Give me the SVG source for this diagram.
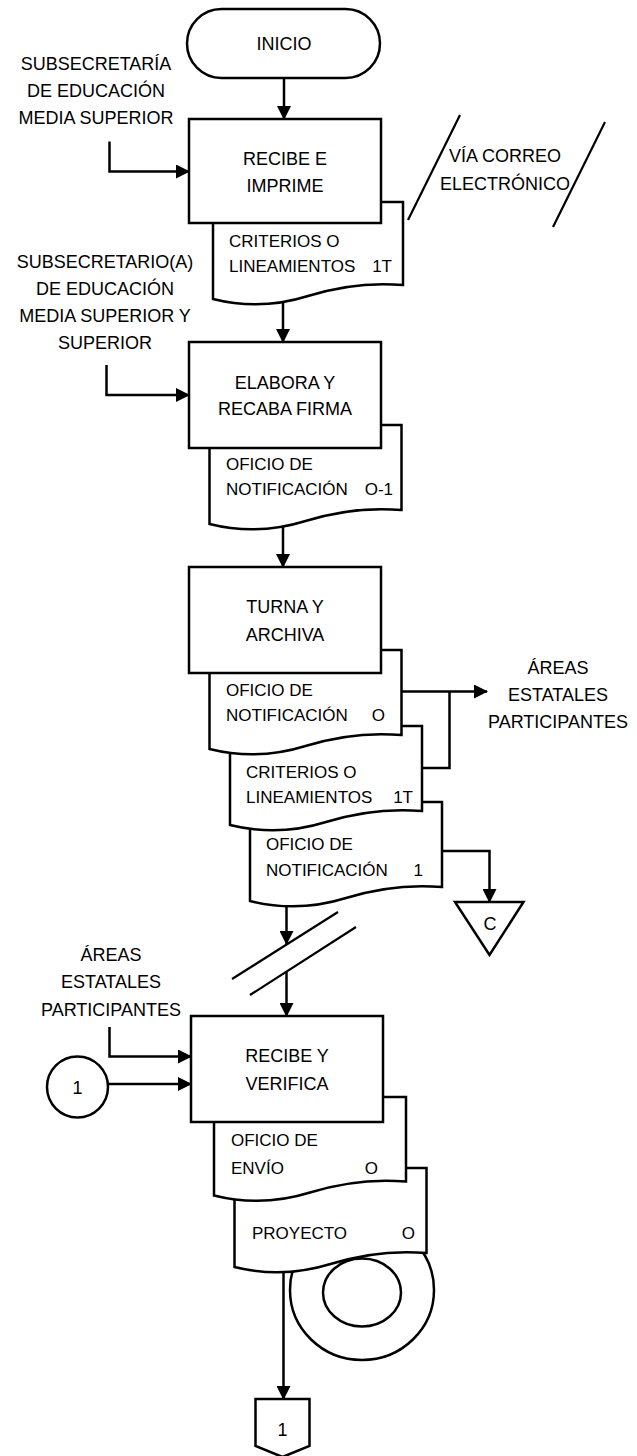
<svg xmlns="http://www.w3.org/2000/svg" width="637" height="1456" viewBox="0 0 637 1456">
  <style>
    .s { fill: #fff; stroke: #000; stroke-width: 2.5; }
    .c { fill: none; stroke: #000; stroke-width: 2.5; }
    .ln { fill: none; stroke: #000; stroke-width: 2.2; }
    text { font-family: "Liberation Sans", Arial, sans-serif; font-size: 18px; fill: #000; }
    .m { text-anchor: middle; }
    .e { text-anchor: end; }
    .d { font-size: 17px; }
  </style>
  <defs>
    <marker id="ah" viewBox="0 0 14 14" refX="13" refY="7" markerWidth="14" markerHeight="14" markerUnits="userSpaceOnUse" orient="auto">
      <path d="M0,0 L14,7 L0,14 z" fill="#000"/>
    </marker>
  </defs>
  <rect width="637" height="1456" fill="#fff"/>

  <!-- start terminator -->
  <g id="inicio">
    <rect class="s" x="187" y="9" width="193" height="69" rx="34.5" ry="34.5"/>
    <text class="m" x="284" y="49.5">INICIO</text>
  </g>

  <!-- actor labels -->
  <g id="lbl-subsecretaria">
    <text class="m" x="96" y="70">SUBSECRETARÍA</text>
    <text class="m" x="96" y="97">DE EDUCACIÓN</text>
    <text class="m" x="96" y="124">MEDIA SUPERIOR</text>
  </g>
  <g id="lbl-subsecretario">
    <text class="m" x="105" y="268">SUBSECRETARIO(A)</text>
    <text class="m" x="105" y="295">DE EDUCACIÓN</text>
    <text class="m" x="105" y="322">MEDIA SUPERIOR Y</text>
    <text class="m" x="105" y="349">SUPERIOR</text>
  </g>

  <!-- step 1 with its document -->
  <g id="doc-criterios-1">
    <path class="s" d="M213,299 Q260.5,311 308,296 Q355.5,281 403,285 V202 H213 Z"/>
    <text class="d" x="229" y="246.5">CRITERIOS O</text>
    <text class="d" x="229" y="271.5">LINEAMIENTOS</text>
    <text class="d e" x="392" y="271.5">1T</text>
  </g>
  <g id="recibe-imprime">
    <rect class="s" x="189" y="119" width="192" height="104"/>
    <text class="m" x="285" y="164.5">RECIBE E</text>
    <text class="m" x="285" y="191.5">IMPRIME</text>
  </g>

  <!-- e-mail channel -->
  <g id="via-correo">
    <line class="ln" x1="408" y1="220" x2="460" y2="115"/>
    <line class="ln" x1="553" y1="227" x2="605" y2="122"/>
    <text class="m" x="505" y="161.5">VÍA CORREO</text>
    <text class="m" x="505" y="190">ELECTRÓNICO</text>
  </g>

  <!-- step 2 -->
  <g id="doc-oficio-o1">
    <path class="s" d="M209.5,524 Q257.5,536 305.5,521 Q353.5,506 401.5,510 V425 H209.5 Z"/>
    <text class="d" x="226" y="469.5">OFICIO DE</text>
    <text class="d" x="226" y="494.5">NOTIFICACIÓN</text>
    <text class="d e" x="393" y="494.5">O-1</text>
  </g>
  <g id="elabora-recaba">
    <rect class="s" x="189" y="342" width="192" height="106"/>
    <text class="m" x="285" y="389">ELABORA Y</text>
    <text class="m" x="285" y="415">RECABA FIRMA</text>
  </g>

  <!-- step 3 with stacked documents -->
  <g id="doc-oficio-1">
    <path class="s" d="M250,901 Q298,913 346,898 Q394,883 442,887 V802 H250 Z"/>
    <text class="d" x="266" y="849.5">OFICIO DE</text>
    <text class="d" x="266" y="875.5">NOTIFICACIÓN</text>
    <text class="d e" x="423" y="875.5">1</text>
  </g>
  <g id="doc-criterios-2">
    <path class="s" d="M230,825 Q278,837 326,822 Q374,807 422,811 V726 H230 Z"/>
    <text class="d" x="246" y="778">CRITERIOS O</text>
    <text class="d" x="246" y="803">LINEAMIENTOS</text>
    <text class="d e" x="413" y="803">1T</text>
  </g>
  <g id="doc-oficio-o">
    <path class="s" d="M209.5,749 Q257.5,761 305.5,746 Q353.5,731 401.5,735 V650 H209.5 Z"/>
    <text class="d" x="226" y="696">OFICIO DE</text>
    <text class="d" x="226" y="721">NOTIFICACIÓN</text>
    <text class="d e" x="385" y="721">O</text>
  </g>
  <g id="turna-archiva">
    <rect class="s" x="189" y="567" width="192" height="106"/>
    <text class="m" x="285" y="613">TURNA Y</text>
    <text class="m" x="285" y="641">ARCHIVA</text>
  </g>

  <g id="lbl-areas-destino">
    <text class="m" x="558" y="674">ÁREAS</text>
    <text class="m" x="558" y="701">ESTATALES</text>
    <text class="m" x="558" y="728">PARTICIPANTES</text>
  </g>

  <!-- off-page connector C -->
  <g id="conector-c">
    <polygon class="s" points="455,902 523.5,902 489.5,955"/>
    <text class="m" x="490" y="929.5">C</text>
  </g>

  <!-- break in the flow -->
  <g id="corte">
    <line class="ln" x1="232" y1="979" x2="338" y2="912"/>
    <line class="ln" x1="250" y1="995" x2="356" y2="927"/>
  </g>

  <g id="lbl-areas-origen">
    <text class="m" x="111" y="960.5">ÁREAS</text>
    <text class="m" x="111" y="988">ESTATALES</text>
    <text class="m" x="111" y="1015.5">PARTICIPANTES</text>
  </g>

  <!-- on-page connector 1 -->
  <g id="conector-1-entrada">
    <circle class="s" cx="77.5" cy="1087" r="30.5"/>
    <text class="m" x="77.5" y="1094">1</text>
  </g>

  <!-- step 4 with documents and file -->
  <g id="archivo">
    <ellipse class="s" cx="362" cy="1290" rx="72" ry="70"/>
    <ellipse class="s" cx="362" cy="1292.5" rx="39" ry="34"/>
  </g>
  <g id="doc-proyecto">
    <path class="s" d="M234.5,1267 Q282.5,1279 330.5,1264 Q378.5,1249 426.5,1253 V1168 H234.5 Z"/>
    <text class="d" x="252" y="1239">PROYECTO</text>
    <text class="d e" x="415" y="1239">O</text>
  </g>
  <g id="doc-oficio-envio">
    <path class="s" d="M214,1195.5 Q262,1207.5 310,1192.5 Q358,1177.5 406,1181.5 V1097 H214 Z"/>
    <text class="d" x="231" y="1146">OFICIO DE</text>
    <text class="d" x="231" y="1174">ENVÍO</text>
    <text class="d e" x="378" y="1174">O</text>
  </g>
  <g id="recibe-verifica">
    <rect class="s" x="191" y="1016" width="192" height="106"/>
    <text class="m" x="287" y="1061.5">RECIBE Y</text>
    <text class="m" x="287" y="1089.5">VERIFICA</text>
  </g>

  <!-- off-page connector 1 -->
  <g id="conector-1-salida">
    <polygon class="s" points="255.5,1399 309.5,1399 309.5,1446 282.5,1457 255.5,1446"/>
    <text class="m" x="282.5" y="1435.5">1</text>
  </g>

  <!-- connectors -->
  <g id="connectors" class="c">
    <line class="c" x1="284" y1="78" x2="284" y2="119" marker-end="url(#ah)"/>
    <polyline class="c" points="109.5,141.5 109.5,171.5 189,171.5" marker-end="url(#ah)"/>
    <line class="c" x1="283" y1="301" x2="283" y2="342" marker-end="url(#ah)"/>
    <polyline class="c" points="106.5,365 106.5,395 189,395" marker-end="url(#ah)"/>
    <line class="c" x1="283" y1="526" x2="283" y2="567" marker-end="url(#ah)"/>
    <line class="c" x1="401.5" y1="691.5" x2="487" y2="691.5" marker-end="url(#ah)"/>
    <polyline class="c" points="449.5,691.5 449.5,768 422,768"/>
    <polyline class="c" points="442,851 489.5,851 489.5,902" marker-end="url(#ah)"/>
    <line class="c" x1="286.5" y1="905" x2="286.5" y2="944" marker-end="url(#ah)"/>
    <line class="c" x1="286.5" y1="971.5" x2="286.5" y2="1016" marker-end="url(#ah)"/>
    <polyline class="c" points="109.5,1027 109.5,1056.5 191,1056.5" marker-end="url(#ah)"/>
    <line class="c" x1="108" y1="1084" x2="191" y2="1084" marker-end="url(#ah)"/>
    <line class="c" x1="283.5" y1="1271" x2="283.5" y2="1399" marker-end="url(#ah)"/>
  </g>
</svg>
